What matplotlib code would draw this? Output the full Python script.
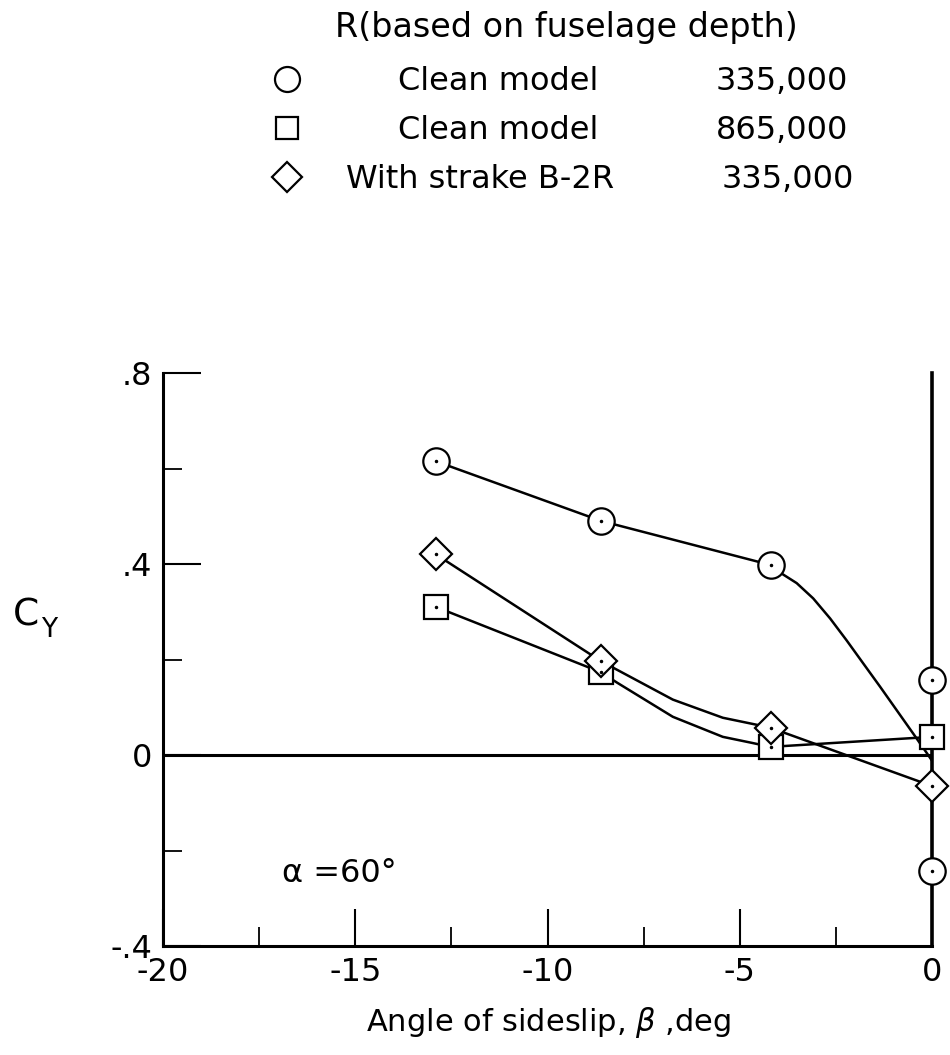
import matplotlib
matplotlib.use("Agg")
import matplotlib.pyplot as plt

plt.rcParams['font.family'] = ['DejaVu Sans']
plt.rcParams['mathtext.fontset'] = 'dejavusans'

beta_circle = [-12.9, -8.6, -4.2, 0.0, 0.0]
cy_circle = [0.615, 0.49, 0.398, 0.158, -0.242]
beta_square = [-12.9, -8.6, -4.2, 0.0]
cy_square = [0.31, 0.173, 0.017, 0.038]
beta_diamond = [-12.9, -8.6, -4.2, 0.0]
cy_diamond = [0.42, 0.196, 0.057, -0.065]

# Faired curves
fair_circle_beta = [-12.9, -8.6, -4.2, -3.95, -3.52, -3.09, -2.65, -2.22, -1.79,
                    -1.35, -0.92, -0.49, -0.1, 0.0]
fair_circle_cy = [0.615, 0.49, 0.398, 0.382, 0.36, 0.328, 0.286, 0.24, 0.192,
                  0.143, 0.094, 0.045, 0.0, -0.012]
fair_square_beta = [-12.9, -8.6, -8.2, -6.74, -5.44, -4.66, -4.2, 0.0]
fair_square_cy = [0.31, 0.173, 0.152, 0.08, 0.038, 0.025, 0.017, 0.038]
fair_diamond_beta = [-12.9, -8.6, -8.11, -6.74, -5.44, -4.6, -4.2, 0.0]
fair_diamond_cy = [0.42, 0.196, 0.175, 0.116, 0.078, 0.064, 0.057, -0.065]

xticks = [-20, -15, -10, -5, 0]
xtick_labels = ['-20', '-15', '-10', '-5', '0']
xminor = [-17.5, -12.5, -7.5, -2.5]
yticks = [-0.4, 0, 0.4, 0.8]
ytick_labels = ['-.4', '0', '.4', '.8']
yminor = [-0.2, 0.2, 0.6]

legend_title = 'R(based on fuselage depth)'
legend_markers = ['o', 's', 'D']
legend_labels = ['Clean model', 'Clean model', 'With strake B-2R']
legend_numbers = ['335,000', '865,000', '335,000']

fig = plt.figure(figsize=(9.5, 10.55), dpi=100)
ax = fig.add_axes([163 / 950, 109 / 1055, 769 / 950, 573 / 1055])

lw_line = 1.8
ax.plot(fair_circle_beta, fair_circle_cy, color='k', lw=lw_line, zorder=2)
ax.plot(fair_square_beta, fair_square_cy, color='k', lw=lw_line, zorder=2)
ax.plot(fair_diamond_beta, fair_diamond_cy, color='k', lw=lw_line, zorder=2)

mk = dict(ls='none', mfc='white', mec='k', mew=1.6, zorder=4, clip_on=False)
ax.plot(beta_circle, cy_circle, marker='o', ms=19, **mk)
ax.plot(beta_square, cy_square, marker='s', ms=17, **mk)
ax.plot(beta_diamond, cy_diamond, marker='D', ms=16, **mk)
for b, c in [(beta_circle, cy_circle), (beta_square, cy_square), (beta_diamond, cy_diamond)]:
    ax.plot(b, c, ls='none', marker='.', ms=3, color='k', zorder=5, clip_on=False)

ax.axhline(0, color='k', lw=2.2, zorder=1)

ax.set_xlim(-20, 0)
ax.set_ylim(-0.4, 0.8)
ax.spines['top'].set_visible(False)
for s in ['left', 'bottom']:
    ax.spines[s].set_linewidth(2.2)
ax.spines['right'].set_linewidth(2.6)

ax.set_xticks(xticks)
ax.set_xticklabels(xtick_labels)
ax.set_xticks(xminor, minor=True)
ax.set_yticks(yticks)
ax.set_yticklabels(ytick_labels)
ax.set_yticks(yminor, minor=True)
ax.tick_params(which='major', direction='in', length=27, width=1.5, labelsize=23, pad=8)
ax.tick_params(which='minor', direction='in', length=14, width=1.3)
ax.tick_params(axis='y', which='both', right=False)

ax.text(-16.9, -0.248, 'α =60°', va='center', ha='left', fontsize=23)

fig.text(549 / 950, 1 - 1022 / 1055, 'Angle of sideslip, $\\beta$ ,deg',
         ha='center', va='center', fontsize=22)
fig.text(13 / 950, 1 - 615 / 1055, 'C', ha='left', va='center', fontsize=27)
fig.text(41 / 950, 1 - 630 / 1055, 'Y', ha='left', va='center', fontsize=19)

# legend block, drawn in pixel coordinates
leg = fig.add_axes([0, 0, 1, 1], zorder=-1)
leg.set_xlim(0, 950)
leg.set_ylim(1055, 0)
leg.axis('off')
leg.text(335, 37, legend_title, fontsize=24, va='baseline', ha='left')
row_y = [79, 128, 177]
text_x = [398, 398, 346]
num_x = [716, 716, 722]
sizes = {'o': 18, 's': 16, 'D': 15}
for m, label, num, y, tx, nx in zip(legend_markers, legend_labels, legend_numbers,
                                    row_y, text_x, num_x):
    leg.plot([287], [y], marker=m, ms=sizes[m], mfc='white', mec='k', mew=1.6, ls='none')
    leg.text(tx, y + 11, label, fontsize=23, va='baseline', ha='left')
    leg.text(nx, y + 11, num, fontsize=23, va='baseline', ha='left')

fig.savefig('out.png', dpi=100)
